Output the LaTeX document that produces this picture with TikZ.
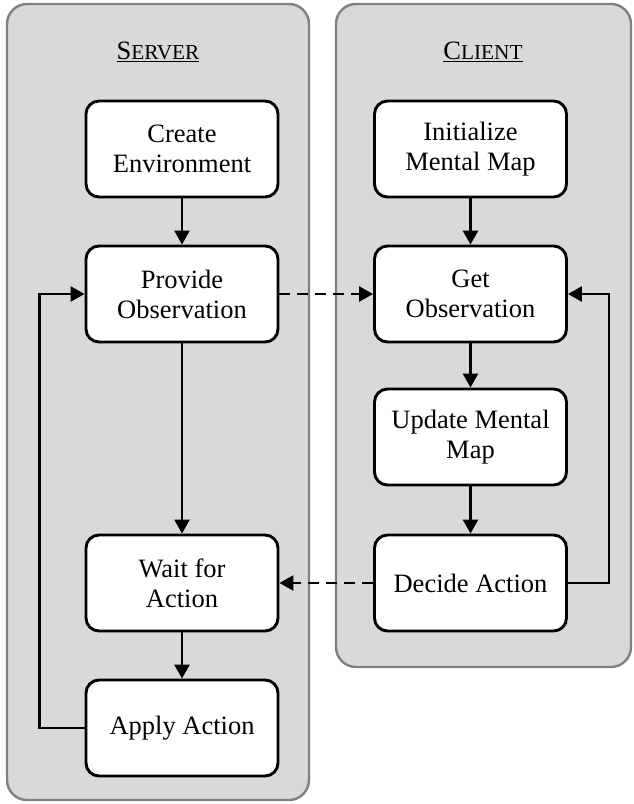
\documentclass[tikz,border=0pt]{standalone}
\usepackage{fontspec}
\setmainfont{Liberation Serif}
\usetikzlibrary{arrows.meta}
\definecolor{panelfill}{HTML}{D9D9D9}
\definecolor{panelline}{HTML}{808080}
\begin{document}
\begin{tikzpicture}[x=1pt,y=-1pt,
  panel/.style={draw=panelline, fill=panelfill, line width=2.4pt, rounded corners=20pt},
  stepbox/.style={draw, fill=white, line width=2.9pt, rounded corners=13pt,
    minimum width=192pt, minimum height=96pt, align=center, inner sep=0pt,
    font=\fontsize{26.5}{30}\selectfont},
  flow/.style={line width=2.6pt, -{Triangle[length=14pt,width=15pt]}},
  msg/.style={flow, dash pattern=on 11pt off 7pt},
  title/.style={font=\fontsize{26.5}{30}\selectfont, inner sep=0pt}]
\useasboundingbox (0,0) rectangle (634,804);
\path[panel] (7,4) rectangle (309,800);
\path[panel] (336,4) rectangle (631,667);
\node[title] (servertitle) at (158,52) {\underline{S{\fontsize{21.3}{21.3}\selectfont ERVER}}};
\node[title] (clienttitle) at (483,52) {\underline{C{\fontsize{21.3}{21.3}\selectfont LIENT}}};
\node[stepbox] (create) at (182,149) {Create\\Environment};
\node[stepbox] (provide) at (182,294) {Provide\\Observation};
\node[stepbox] (wait) at (182,583) {Wait for\\Action};
\node[stepbox] (apply) at (182,728) {Apply Action};
\node[stepbox] (init) at (470.5,149) {Initialize\\Mental Map};
\node[stepbox] (get) at (470.5,294) {Get\\Observation};
\node[stepbox] (update) at (470.5,437) {Update Mental\\Map};
\node[stepbox] (decide) at (470.5,583) {Decide Action};
\draw[flow] (create) -- (provide);
\draw[flow] (provide) -- (wait);
\draw[flow] (wait) -- (apply);
\draw[flow] (apply.west) -- ++(-45,0) |- (provide.west);
\draw[msg] (provide) -- (get);
\draw[flow] (init) -- (get);
\draw[flow] (get) -- (update);
\draw[flow] (update) -- (decide);
\draw[flow] (decide.east) -- ++(41,0) |- (get.east);
\draw[msg] (decide) -- (wait);
\end{tikzpicture}
\end{document}
